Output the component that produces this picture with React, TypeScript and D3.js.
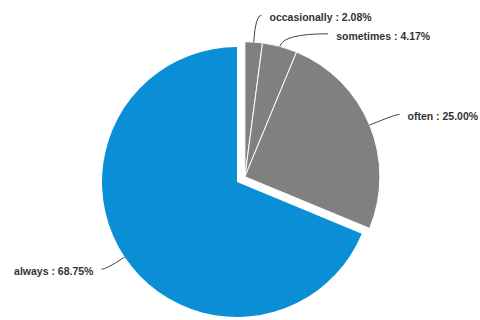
import React from "react";
import * as d3 from "d3";

const categories = ["occasionally", "sometimes", "often", "always"];
const values = [2.08, 4.17, 25.0, 68.75];
const labels = ["occasionally : 2.08%", "sometimes : 4.17%", "often : 25.00%", "always : 68.75%"];
const exploded = [true, true, true, false];

// label layout: radial extension of the elbow and horizontal run of the leader line
const leaderExt = [27, 13, 28, 22];
const leaderRun = [6, 45, 4, -5];

const W = 480;
const H = 320;
const CX = 237;
const CY = 182;
const R = 135;
const EXPLODE = 9.5;

export default function App() {
  const pie = d3.pie<number>().sort(null).value((d) => d).startAngle(0).endAngle(2 * Math.PI);
  const arcs = pie(values);
  const arc = d3.arc<d3.PieArcDatum<number>>().innerRadius(0).outerRadius(R);

  // explode group of grey slices along their common mid angle
  const exArcs = arcs.filter((_, i) => exploded[i]);
  const groupMid = (exArcs[0].startAngle + exArcs[exArcs.length - 1].endAngle) / 2;
  const ex = { x: EXPLODE * Math.sin(groupMid), y: -EXPLODE * Math.cos(groupMid) };

  return (
    <svg width={W} height={H} style={{ position: "absolute", left: 0, top: 0 }}>
      <rect width={W} height={H} fill="#fff" />
      {arcs.map((a, i) => {
        const off = exploded[i] ? ex : { x: 0, y: 0 };
        return (
          <path
            key={categories[i]}
            d={arc(a) || ""}
            transform={`translate(${CX + off.x},${CY + off.y})`}
            fill={exploded[i] ? "#808080" : "#0a8fd6"}
            stroke={exploded[i] ? "#fff" : "none"}
            strokeWidth={exploded[i] ? 1 : 0}
          />
        );
      })}
      {arcs.map((a, i) => {
        const off = exploded[i] ? ex : { x: 0, y: 0 };
        const cx = CX + off.x;
        const cy = CY + off.y;
        const mid = (a.startAngle + a.endAngle) / 2;
        const sx = cx + R * Math.sin(mid);
        const sy = cy - R * Math.cos(mid);
        const ex2 = cx + (R + leaderExt[i]) * Math.sin(mid);
        const ey2 = cy - (R + leaderExt[i]) * Math.cos(mid);
        const endX = ex2 + leaderRun[i];
        const endY = ey2;
        const right = leaderRun[i] >= 0;
        return (
          <g key={"l" + i}>
            <path
              d={`M${sx},${sy} Q${ex2},${ey2} ${endX},${endY}`}
              fill="none"
              stroke="#444"
              strokeWidth={1}
            />
            <text
              x={endX + (right ? 8 : -8)}
              y={endY + 2}
              textAnchor={right ? "start" : "end"}
              dominantBaseline="central"
              fontFamily="Liberation Sans, Arial, sans-serif"
              fontWeight="bold"
              fontSize={10.5}
              fill="#333"
            >
              {labels[i]}
            </text>
          </g>
        );
      })}
    </svg>
  );
}
